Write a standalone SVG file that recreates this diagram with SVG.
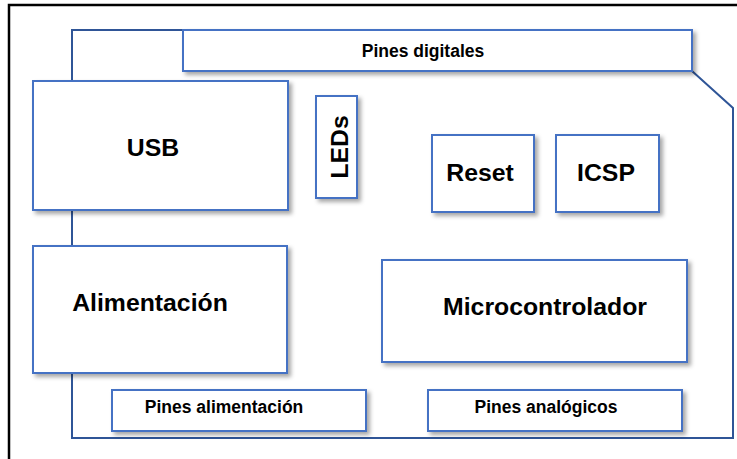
<svg xmlns="http://www.w3.org/2000/svg" width="737" height="459" viewBox="0 0 737 459">
<defs>
<style>
.box{fill:#fff;stroke:#4472C4;stroke-width:2;filter:url(#sh)}
.big{font-family:"Liberation Sans",Arial,sans-serif;font-weight:bold;font-size:24.8px;fill:#000;text-anchor:middle}
.small{font-family:"Liberation Sans",Arial,sans-serif;font-weight:bold;font-size:17.5px;fill:#000;text-anchor:middle}
</style>
<filter id="sh" x="-10%" y="-10%" width="130%" height="140%">
<feDropShadow dx="3" dy="3" stdDeviation="2" flood-color="#000" flood-opacity="0.35"/>
</filter>
</defs>
<rect width="737" height="459" fill="#fff"/>
<g id="frame" fill="none" stroke="#000" stroke-width="2.5">
<polyline points="9,459 9,5 737,5"/>
</g>
<g id="connectors">
<polyline points="183,30 72,30 72,438 733,438 733,108 692,71" fill="none" stroke="#2F5597" stroke-width="2"/>
</g>
<g id="pines-digitales"><rect class="box" x="183" y="30" width="509" height="41"/><text class="small" x="423" y="57">Pines digitales</text></g>
<g id="usb"><rect class="box" x="33" y="81" width="255" height="129"/><text class="big" x="153" y="156">USB</text></g>
<g id="leds"><rect class="box" x="316" y="96" width="41" height="102"/><text class="big" transform="translate(348,147) rotate(-90)" x="0" y="0">LEDs</text></g>
<g id="reset"><rect class="box" x="432" y="135" width="102" height="77"/><text class="big" x="480" y="181">Reset</text></g>
<g id="icsp"><rect class="box" x="556" y="135" width="103" height="77"/><text class="big" x="606" y="181">ICSP</text></g>
<g id="alimentacion"><rect class="box" x="33" y="246" width="254" height="127"/><text class="big" x="150" y="311">Alimentación</text></g>
<g id="microcontrolador"><rect class="box" x="382" y="260" width="305" height="102"/><text class="big" x="545" y="315">Microcontrolador</text></g>
<g id="pines-alimentacion"><rect class="box" x="112" y="390" width="254" height="41"/><text class="small" x="224" y="413">Pines alimentación</text></g>
<g id="pines-analogicos"><rect class="box" x="428" y="390" width="254" height="41"/><text class="small" x="546" y="413">Pines analógicos</text></g>
</svg>
